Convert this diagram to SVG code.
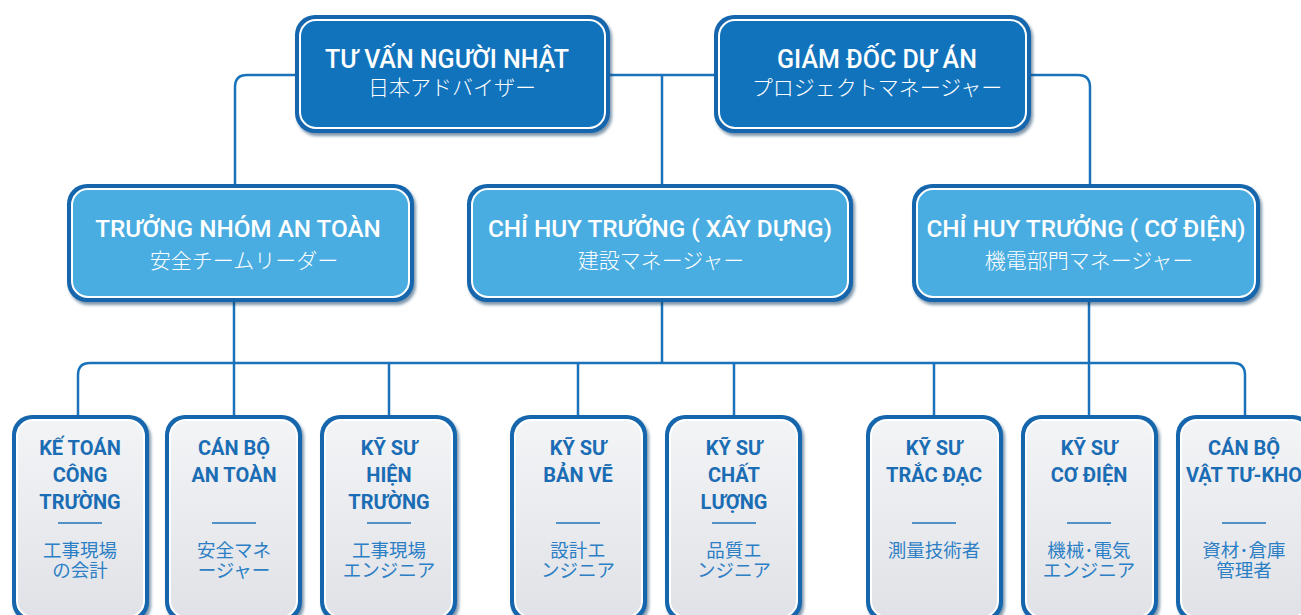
<svg xmlns="http://www.w3.org/2000/svg" width="1301" height="615" viewBox="0 0 1301 615">
<defs>
  <filter id="sh" x="-10%" y="-10%" width="120%" height="125%">
    <feDropShadow dx="2" dy="3" stdDeviation="1.5" flood-color="#0a3c66" flood-opacity="0.55"/>
  </filter>
  <linearGradient id="gray" x1="0" y1="0" x2="0" y2="1">
    <stop offset="0" stop-color="#f3f4f6"/>
    <stop offset="1" stop-color="#e1e2e7"/>
  </linearGradient>
  <style>
    text { font-family: Roboto, "Noto Sans CJK JP", sans-serif; text-anchor: middle; }
    .outer { fill: #1466ad; filter: url(#sh); }
    .in-top { fill: #1173bc; stroke: #ffffff; stroke-width: 2; }
    .in-mid { fill: #4aade1; stroke: #ffffff; stroke-width: 2; }
    .in-bot { fill: url(#gray); stroke: #ffffff; stroke-width: 2; }
    .t-top { fill: #ffffff; font-size: 25px; font-weight: 500; }
    .t-mid { fill: #ffffff; font-size: 24.3px; font-weight: 500; }
    .j-head { fill: #ffffff; font-size: 21px; font-weight: 300; }
    .t-bot { fill: #1a6db4; font-size: 20px; font-weight: 700; }
    .j-bot { fill: #2c7fc5; font-size: 18.5px; font-weight: 400; }
    .div { stroke: #1f73b9; stroke-width: 1.5; }
    .conn { fill: none; stroke: #1a72ba; stroke-width: 2.5; }
  </style>
</defs>
<rect width="1301" height="615" fill="#ffffff"/>

<g id="connectors">
  <path class="conn" d="M295,75 H247 Q235,75 235,87 V186"/>
  <path class="conn" d="M610,75 H714"/>
  <path class="conn" d="M662,75 V186"/>
  <path class="conn" d="M1031,75 H1078 Q1090,75 1090,87 V186"/>
  <path class="conn" d="M234,302 V417"/>
  <path class="conn" d="M662,302 V363"/>
  <path class="conn" d="M1089,302 V417"/>
  <path class="conn" d="M78,417 V375 Q78,363 90,363 H1233 Q1245,363 1245,375 V417"/>
  <path class="conn" d="M389,363 V417"/>
  <path class="conn" d="M578,363 V417"/>
  <path class="conn" d="M734,363 V417"/>
  <path class="conn" d="M934,363 V417"/>
</g>

<g id="tu-van">
  <rect class="outer" x="295" y="15" width="315" height="118" rx="20"/>
  <rect class="in-top" x="300" y="20" width="305" height="108" rx="16"/>
  <text class="t-top" x="447" y="68">TƯ VẤN NGƯỜI NHẬT</text>
  <text class="j-head" x="452" y="95">日本アドバイザー</text>
</g>
<g id="giam-doc">
  <rect class="outer" x="714" y="15" width="317" height="118" rx="20"/>
  <rect class="in-top" x="719" y="20" width="307" height="108" rx="16"/>
  <text class="t-top" x="877" y="68">GIÁM ĐỐC DỰ ÁN</text>
  <text class="j-head" x="877" y="95">プロジェクトマネージャー</text>
</g>

<g id="truong-nhom-an-toan">
  <rect class="outer" x="67" y="184" width="347" height="118" rx="20"/>
  <rect class="in-mid" x="72" y="189" width="337" height="108" rx="16"/>
  <text class="t-mid" x="238" y="237">TRƯỞNG NHÓM AN TOÀN</text>
  <text class="j-head" x="244" y="268">安全チームリーダー</text>
</g>
<g id="chi-huy-xay-dung">
  <rect class="outer" x="467" y="184" width="386" height="118" rx="20"/>
  <rect class="in-mid" x="472" y="189" width="376" height="108" rx="16"/>
  <text class="t-mid" x="660" y="237">CHỈ HUY TRƯỞNG ( XÂY DỰNG)</text>
  <text class="j-head" x="661" y="268">建設マネージャー</text>
</g>
<g id="chi-huy-co-dien">
  <rect class="outer" x="912" y="184" width="348" height="118" rx="20"/>
  <rect class="in-mid" x="917" y="189" width="338" height="108" rx="16"/>
  <text class="t-mid" x="1086" y="237">CHỈ HUY TRƯỞNG ( CƠ ĐIỆN)</text>
  <text class="j-head" x="1089" y="268">機電部門マネージャー</text>
</g>

<g id="ke-toan">
  <rect class="outer" x="12" y="415" width="137" height="207" rx="20"/>
  <rect class="in-bot" x="17" y="420" width="127" height="197" rx="16"/>
  <text class="t-bot" x="80" y="455">KẾ TOÁN</text>
  <text class="t-bot" x="80" y="482">CÔNG</text>
  <text class="t-bot" x="80" y="509">TRƯỜNG</text>
  <line class="div" x1="58" y1="523" x2="102" y2="523"/>
  <text class="j-bot" x="80" y="557">工事現場</text>
  <text class="j-bot" x="80" y="577">の会計</text>
</g>
<g id="can-bo-an-toan">
  <rect class="outer" x="165" y="415" width="137" height="207" rx="20"/>
  <rect class="in-bot" x="170" y="420" width="127" height="197" rx="16"/>
  <text class="t-bot" x="234" y="455">CÁN BỘ</text>
  <text class="t-bot" x="234" y="482">AN TOÀN</text>
  <line class="div" x1="212" y1="523" x2="256" y2="523"/>
  <text class="j-bot" x="234" y="557">安全マネ</text>
  <text class="j-bot" x="234" y="577">ージャー</text>
</g>
<g id="ky-su-hien-truong">
  <rect class="outer" x="320" y="415" width="137" height="207" rx="20"/>
  <rect class="in-bot" x="325" y="420" width="127" height="197" rx="16"/>
  <text class="t-bot" x="389" y="455">KỸ SƯ</text>
  <text class="t-bot" x="389" y="482">HIỆN</text>
  <text class="t-bot" x="389" y="509">TRƯỜNG</text>
  <line class="div" x1="367" y1="523" x2="411" y2="523"/>
  <text class="j-bot" x="389" y="557">工事現場</text>
  <text class="j-bot" x="389" y="577">エンジニア</text>
</g>
<g id="ky-su-ban-ve">
  <rect class="outer" x="510" y="415" width="137" height="207" rx="20"/>
  <rect class="in-bot" x="515" y="420" width="127" height="197" rx="16"/>
  <text class="t-bot" x="578" y="455">KỸ SƯ</text>
  <text class="t-bot" x="578" y="482">BẢN VẼ</text>
  <line class="div" x1="556" y1="523" x2="600" y2="523"/>
  <text class="j-bot" x="578" y="557">設計エ</text>
  <text class="j-bot" x="578" y="577">ンジニア</text>
</g>
<g id="ky-su-chat-luong">
  <rect class="outer" x="665" y="415" width="137" height="207" rx="20"/>
  <rect class="in-bot" x="670" y="420" width="127" height="197" rx="16"/>
  <text class="t-bot" x="734" y="455">KỸ SƯ</text>
  <text class="t-bot" x="734" y="482">CHẤT</text>
  <text class="t-bot" x="734" y="509">LƯỢNG</text>
  <line class="div" x1="712" y1="523" x2="756" y2="523"/>
  <text class="j-bot" x="734" y="557">品質エ</text>
  <text class="j-bot" x="734" y="577">ンジニア</text>
</g>
<g id="ky-su-trac-dac">
  <rect class="outer" x="866" y="415" width="137" height="207" rx="20"/>
  <rect class="in-bot" x="871" y="420" width="127" height="197" rx="16"/>
  <text class="t-bot" x="934" y="455">KỸ SƯ</text>
  <text class="t-bot" x="934" y="482">TRẮC ĐẠC</text>
  <line class="div" x1="912" y1="523" x2="956" y2="523"/>
  <text class="j-bot" x="934" y="557">測量技術者</text>
</g>
<g id="ky-su-co-dien">
  <rect class="outer" x="1021" y="415" width="137" height="207" rx="20"/>
  <rect class="in-bot" x="1026" y="420" width="127" height="197" rx="16"/>
  <text class="t-bot" x="1089" y="455">KỸ SƯ</text>
  <text class="t-bot" x="1089" y="482">CƠ ĐIỆN</text>
  <line class="div" x1="1067" y1="523" x2="1111" y2="523"/>
  <text class="j-bot" x="1089" y="557">機械･電気</text>
  <text class="j-bot" x="1089" y="577">エンジニア</text>
</g>
<g id="can-bo-vat-tu">
  <rect class="outer" x="1176" y="415" width="137" height="207" rx="20"/>
  <rect class="in-bot" x="1181" y="420" width="127" height="197" rx="16"/>
  <text class="t-bot" x="1244" y="455">CÁN BỘ</text>
  <text class="t-bot" x="1244" y="482">VẬT TƯ-KHO</text>
  <line class="div" x1="1222" y1="523" x2="1266" y2="523"/>
  <text class="j-bot" x="1244" y="557">資材･倉庫</text>
  <text class="j-bot" x="1244" y="577">管理者</text>
</g>
</svg>
